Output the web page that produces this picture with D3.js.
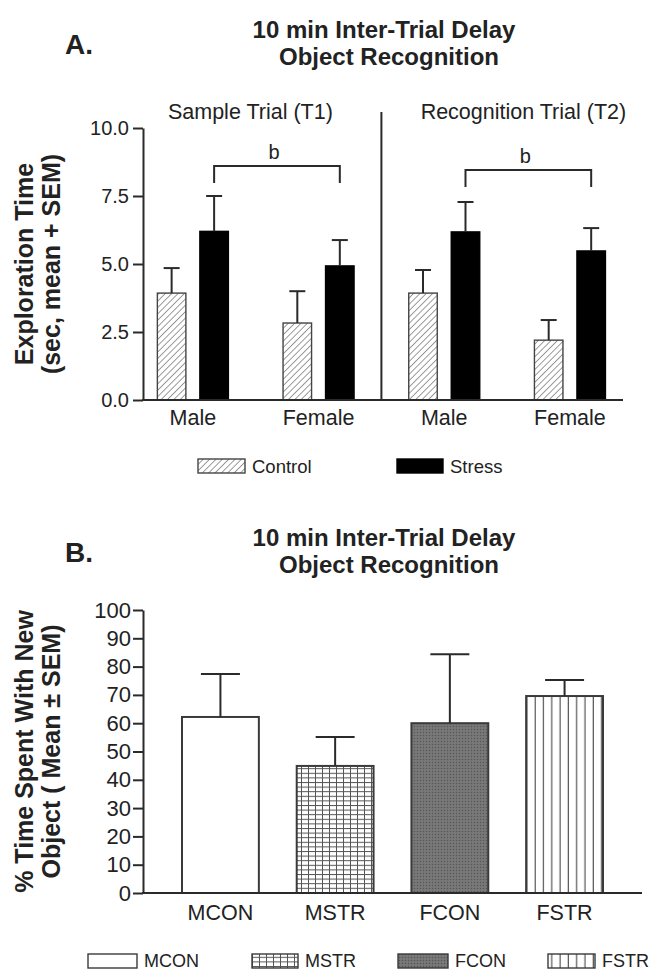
<!DOCTYPE html>
<html><head><meta charset="utf-8">
<script src="https://cdn.jsdelivr.net/npm/d3@7"></script>
<style>body{margin:0;background:#fff}svg{display:block}text{font-family:"Liberation Sans",Arial,Helvetica,sans-serif;fill:#222}</style>
</head><body><svg id="c" width="654" height="973"></svg>
<script>
// ---------- data ----------
const groupKeys = ["T1 Male","T1 Female","T2 Male","T2 Female"];
const groupLabels = ["Male","Female","Male","Female"];
const trialLabels = ["Sample Trial (T1)","Recognition Trial (T2)"];
const treatments = ["Control","Stress"];
const controlMean = [3.93,2.83,3.93,2.20];
const controlSEM  = [0.92,1.17,0.85,0.74];
const stressMean  = [6.20,4.93,6.18,5.48];
const stressSEM   = [1.30,0.95,1.10,0.84];
const yTicksA = [0,2.5,5,7.5,10];
const bracketFrom  = ["T1 Male","T2 Male"];
const bracketTo    = ["T1 Female","T2 Female"];
const bracketLevel = [8.6,8.46];
const bracketDrop  = [7.98,7.83];
const bracketLabel = ["b","b"];

const categoriesB = ["MCON","MSTR","FCON","FSTR"];
const meanB = [62.2,44.9,60.0,69.6];
const semB  = [15.2,10.2,24.4,5.7];
const yTicksB = [0,10,20,30,40,50,60,70,80,90,100];

const titleLines = ["10 min Inter-Trial Delay","Object Recognition"];
const yTitleA = ["Exploration Time","(sec, mean + SEM)"];
const yTitleB = ["% Time Spent With New","Object ( Mean \u00B1 SEM)"];

// ---------- setup ----------
const svg = d3.select("#c");
const ink = "#2a2a2a";
const defs = svg.append("defs");
// diagonal hatch
const ph = defs.append("pattern").attr("id","hatch").attr("patternUnits","userSpaceOnUse")
  .attr("width",4.5).attr("height",4.5).attr("patternTransform","rotate(45)");
ph.append("rect").attr("width",4.5).attr("height",4.5).attr("fill","#fff");
ph.append("line").attr("x1",0).attr("y1",0).attr("x2",0).attr("y2",4.5).attr("stroke","#666").attr("stroke-width",1.3);
// grid
const pg = defs.append("pattern").attr("id","grid").attr("patternUnits","userSpaceOnUse")
  .attr("width",7).attr("height",4.6);
pg.append("rect").attr("width",7).attr("height",4.6).attr("fill","#fff");
pg.append("line").attr("x1",0.5).attr("y1",0).attr("x2",0.5).attr("y2",4.6).attr("stroke","#555").attr("stroke-width",1);
pg.append("line").attr("x1",0).attr("y1",0.5).attr("x2",7).attr("y2",0.5).attr("stroke","#555").attr("stroke-width",1);
// stipple
const ps = defs.append("pattern").attr("id","stip").attr("patternUnits","userSpaceOnUse")
  .attr("width",3).attr("height",3);
ps.append("rect").attr("width",3).attr("height",3).attr("fill","#737373");
ps.append("rect").attr("x",0).attr("y",0).attr("width",1).attr("height",1).attr("fill","#555");
ps.append("rect").attr("x",1.5).attr("y",1.5).attr("width",1).attr("height",1).attr("fill","#8a8a8a");
// vertical lines
const pv = defs.append("pattern").attr("id","vlines").attr("patternUnits","userSpaceOnUse")
  .attr("width",8.3).attr("height",10);
pv.append("rect").attr("width",8.3).attr("height",10).attr("fill","#fff");
pv.append("line").attr("x1",4).attr("y1",0).attr("x2",4).attr("y2",10).attr("stroke","#555").attr("stroke-width",1.2);

const fillsB = ["#fff","url(#grid)","url(#stip)","url(#vlines)"];

function titleBlock(letter, y0){
  svg.append("text").attr("x",65).attr("y",y0+16).attr("font-size",28).attr("font-weight","bold").text(letter);
  svg.append("text").attr("x",384).attr("y",y0).attr("text-anchor","middle").attr("font-size",24).attr("font-weight","bold").text(titleLines[0]);
  svg.append("text").attr("x",389).attr("y",y0+27).attr("text-anchor","middle").attr("font-size",24).attr("font-weight","bold").text(titleLines[1]);
}
function yTitle(lines, cy){
  lines.forEach((t,i)=>{
    svg.append("text").attr("transform",`translate(${[33,60][i]},${cy}) rotate(-90)`)
      .attr("text-anchor","middle").attr("font-size",25).attr("font-weight","bold").text(t);
  });
}

// ---------- Panel A ----------
titleBlock("A.", 38);
const xA = d3.scaleBand().domain(groupKeys).range([143,623]).paddingInner(0.435).paddingOuter(0.127).align(0.45);
const sub = d3.scaleBand().domain(treatments).range([0,xA.bandwidth()]).paddingInner(0.329);
const yA = d3.scaleLinear().domain([0,10]).range([400,128]);

const gA = svg.append("g");
const rowsA = groupKeys.map((k,i)=>[
  {g:k,t:"Control",m:controlMean[i],s:controlSEM[i]},
  {g:k,t:"Stress",m:stressMean[i],s:stressSEM[i]}]).flat();
gA.selectAll("rect.bar").data(rowsA).join("rect")
  .attr("x",d=>xA(d.g)+sub(d.t)).attr("width",sub.bandwidth())
  .attr("y",d=>yA(d.m)).attr("height",d=>yA(0)-yA(d.m))
  .attr("fill",d=>d.t==="Control"?"url(#hatch)":"#000")
  .attr("stroke",d=>d.t==="Control"?"#444":"#000").attr("stroke-width",1.4);
const cx = d=>xA(d.g)+sub(d.t)+sub.bandwidth()/2;
gA.selectAll("line.err").data(rowsA).join("line")
  .attr("x1",cx).attr("x2",cx).attr("y1",d=>yA(d.m)).attr("y2",d=>yA(d.m+d.s))
  .attr("stroke",ink).attr("stroke-width",2);
gA.selectAll("line.cap").data(rowsA).join("line")
  .attr("x1",d=>cx(d)-8).attr("x2",d=>cx(d)+8).attr("y1",d=>yA(d.m+d.s)).attr("y2",d=>yA(d.m+d.s))
  .attr("stroke",ink).attr("stroke-width",2);

// axes
const axA = svg.append("g").attr("transform","translate(143,0)")
  .call(d3.axisLeft(yA).tickValues(yTicksA).tickFormat(d3.format(".1f")).tickSize(10).tickPadding(4).tickSizeOuter(0));
axA.selectAll("path,line").attr("stroke",ink).attr("stroke-width",2);
axA.selectAll("text").attr("font-size",20).attr("font-family",'"Liberation Sans",Arial,sans-serif').attr("fill","#222");
svg.append("line").attr("x1",142).attr("x2",xA.range()[1]).attr("y1",yA(0)).attr("y2",yA(0)).attr("stroke",ink).attr("stroke-width",2);

// divider
const divX = (xA(groupKeys[1])+xA.bandwidth()+xA(groupKeys[2]))/2;
svg.append("line").attr("x1",divX).attr("x2",divX).attr("y1",yA(10)-16).attr("y2",yA(0)).attr("stroke",ink).attr("stroke-width",2);
// trial labels
svg.append("text").attr("x",divX-131).attr("y",119).attr("text-anchor","middle").attr("font-size",21.5).text(trialLabels[0]);
svg.append("text").attr("x",divX+142).attr("y",119).attr("text-anchor","middle").attr("font-size",21.5).text(trialLabels[1]);
// category labels
svg.selectAll("text.catA").data(groupKeys).join("text")
  .attr("x",d=>xA(d)+xA.bandwidth()/2).attr("y",425).attr("text-anchor","middle").attr("font-size",21.5)
  .text((d,i)=>groupLabels[i]);
// brackets
bracketFrom.forEach((f,i)=>{
  const x1 = xA(f)+sub("Stress")+sub.bandwidth()/2, x2 = xA(bracketTo[i])+sub("Stress")+sub.bandwidth()/2;
  svg.append("path").attr("d",`M${x1},${yA(bracketDrop[i])}V${yA(bracketLevel[i])}H${x2}V${yA(bracketDrop[i])}`)
    .attr("fill","none").attr("stroke",ink).attr("stroke-width",2);
  svg.append("text").attr("x",(x1+x2)/2-3).attr("y",yA(bracketLevel[i])-7).attr("text-anchor","middle").attr("font-size",20).text(bracketLabel[i]);
});
yTitle(yTitleA,(yA(0)+yA(10))/2);

// legend A
const legA = [{t:"Control",x:198,w:47},{t:"Stress",x:397,w:46}];
legA.forEach(l=>{
  svg.append("rect").attr("x",l.x).attr("y",459).attr("width",l.w).attr("height",14)
    .attr("fill",l.t==="Control"?"url(#hatch)":"#000").attr("stroke",l.t==="Control"?"#444":"#000").attr("stroke-width",1.4);
  svg.append("text").attr("x",l.x+l.w+7).attr("y",473).attr("font-size",18.5).text(l.t);
});

// ---------- Panel B ----------
titleBlock("B.", 546);
const xB = d3.scaleBand().domain(categoriesB).range([143,642]).paddingInner(0.33).paddingOuter(0.34);
const yB = d3.scaleLinear().domain([0,100]).range([893,610]);
const gB = svg.append("g");
const rowsB = categoriesB.map((c,i)=>({c,m:meanB[i],s:semB[i],f:fillsB[i]}));
gB.selectAll("rect").data(rowsB).join("rect")
  .attr("x",d=>xB(d.c)).attr("width",xB.bandwidth())
  .attr("y",d=>yB(d.m)).attr("height",d=>yB(0)-yB(d.m))
  .attr("fill",d=>d.f).attr("stroke","#3a3a3a").attr("stroke-width",2);
const cxB = d=>xB(d.c)+xB.bandwidth()/2;
gB.selectAll("line.err").data(rowsB).join("line")
  .attr("x1",cxB).attr("x2",cxB).attr("y1",d=>yB(d.m)).attr("y2",d=>yB(d.m+d.s))
  .attr("stroke",ink).attr("stroke-width",2);
gB.selectAll("line.cap").data(rowsB).join("line")
  .attr("x1",d=>cxB(d)-19.5).attr("x2",d=>cxB(d)+19.5).attr("y1",d=>yB(d.m+d.s)).attr("y2",d=>yB(d.m+d.s))
  .attr("stroke",ink).attr("stroke-width",2);
const axB = svg.append("g").attr("transform","translate(143,0)")
  .call(d3.axisLeft(yB).tickValues(yTicksB).tickFormat(d3.format("d")).tickSize(10).tickPadding(2).tickSizeOuter(0));
axB.selectAll("path,line").attr("stroke",ink).attr("stroke-width",2);
axB.selectAll("text").attr("font-size",22).attr("font-family",'"Liberation Sans",Arial,sans-serif').attr("fill","#222");
svg.append("line").attr("x1",142).attr("x2",xB.range()[1]).attr("y1",yB(0)).attr("y2",yB(0)).attr("stroke",ink).attr("stroke-width",2);
svg.selectAll("text.catB").data(categoriesB).join("text")
  .attr("x",d=>xB(d)+xB.bandwidth()/2).attr("y",920).attr("text-anchor","middle").attr("font-size",21.5).text(d=>d);
yTitle(yTitleB,(yB(0)+yB(100))/2);

// legend B
const legB = [{x:88,w:49},{x:252,w:46},{x:398,w:50},{x:548,w:47}];
legB.forEach((l,i)=>{
  svg.append("rect").attr("x",l.x).attr("y",954).attr("width",l.w).attr("height",14)
    .attr("fill",fillsB[i]).attr("stroke","#3a3a3a").attr("stroke-width",1.4);
  svg.append("text").attr("x",l.x+l.w+7).attr("y",967).attr("font-size",18).text(categoriesB[i]);
});
</script></body></html>
